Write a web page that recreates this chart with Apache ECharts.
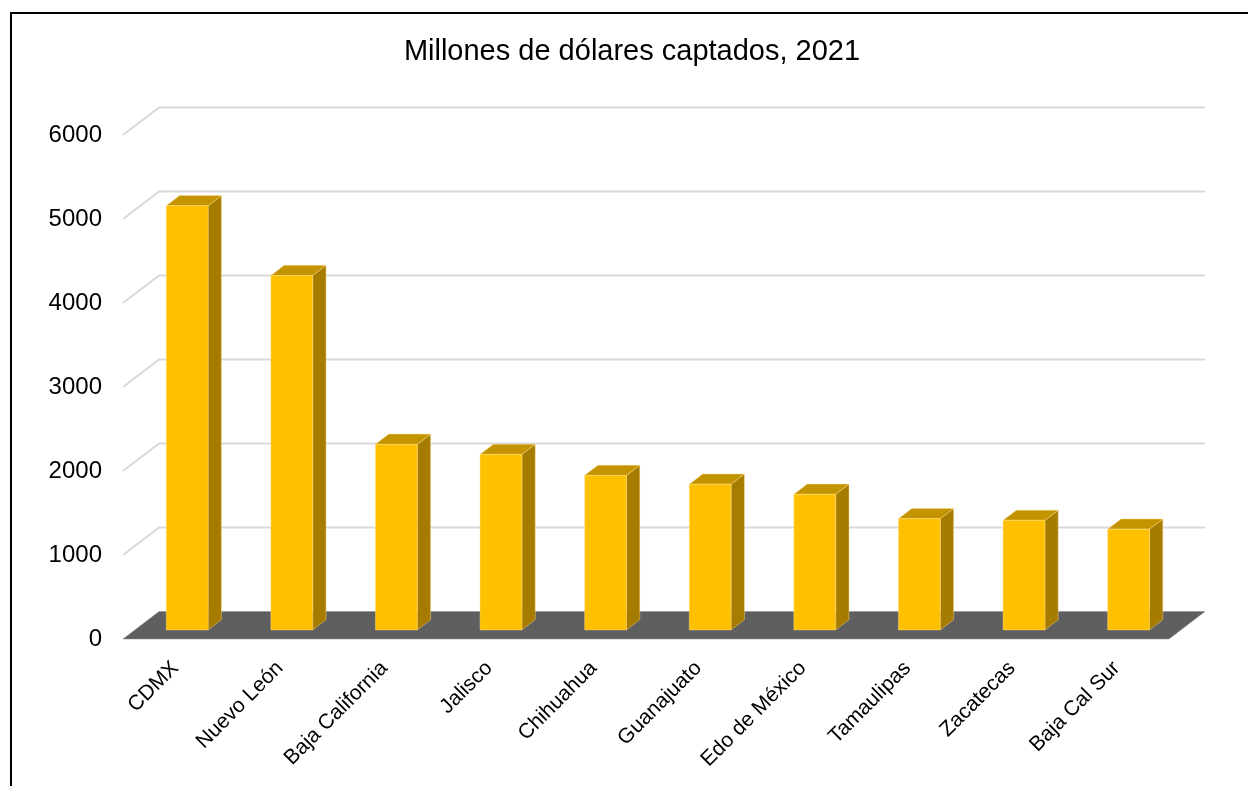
<!DOCTYPE html>
<html>
<head>
<meta charset="utf-8">
<script src="https://cdn.jsdelivr.net/npm/echarts@6/dist/echarts.min.js"></script>
<style>
html,body{margin:0;padding:0;background:#fff;}
#chart{width:1248px;height:786px;}
</style>
</head>
<body>
<div id="chart"></div>
<script>
// ---- data ----
const categories = ['CDMX', 'Nuevo León', 'Baja California', 'Jalisco', 'Chihuahua', 'Guanajuato', 'Edo de México', 'Tamaulipas', 'Zacatecas', 'Baja Cal Sur'];
const values = [5050, 4220, 2210, 2090, 1840, 1735, 1615, 1325, 1305, 1200];
const gridValues = [1000, 2000, 3000, 4000, 5000, 6000];
const titleText = 'Millones de dólares captados, 2021';

// ---- 3D look (styling) ----
const DX = 36, DY = -27.5;      // depth of floor / back wall
const F0 = 0.33, F1 = 0.70;      // bar front / back depth fractions
const BAR_RATIO = 0.40;
const FRONT = '#FFC000', SIDE = '#A67C00', TOP = '#C49300';
const FONT = '"Liberation Sans", Arial, sans-serif';

const chart = echarts.init(document.getElementById('chart'), null, {renderer: 'canvas'});

function renderFloor(params, api) {
  const cs = params.coordSys;
  const yb = cs.y + cs.height;
  return {
    type: 'polygon',
    shape: {points: [[cs.x, yb], [cs.x + cs.width, yb], [cs.x + cs.width + DX, yb + DY], [cs.x + DX, yb + DY]]},
    style: {fill: '#5F5F5F', stroke: '#8a8a8a', lineWidth: 0.5}
  };
}

function renderGrid(params, api) {
  const cs = params.coordSys;
  const y = api.coord([0, api.value(1)])[1];
  return {
    type: 'polyline',
    shape: {points: [[cs.x, y], [cs.x + DX, y + DY], [cs.x + cs.width + DX, y + DY]]},
    style: {fill: null, stroke: '#D9D9D9', lineWidth: 2}
  };
}

function renderBar(params, api) {
  const i = api.value(0), v = api.value(1);
  const base = api.coord([i, 0]);
  const top = api.coord([i, v]);
  const band = api.size([1, 0])[0];
  const w = band * BAR_RATIO;
  const fx = DX * F0, fy = DY * F0;
  const dx = DX * (F1 - F0), dy = DY * (F1 - F0);
  const x0 = base[0] - w / 2 + fx, x1 = base[0] + w / 2 + fx;
  const yb = base[1] + fy, yt = top[1] + fy;
  const edge = 'rgba(255,226,150,0.7)';
  return {
    type: 'group',
    children: [
      {type: 'polygon', shape: {points: [[x1, yt], [x1 + dx, yt + dy], [x1 + dx, yb + dy], [x1, yb]]},
        style: {fill: SIDE, stroke: edge, lineWidth: 0.6}},
      {type: 'polygon', shape: {points: [[x0, yt], [x1, yt], [x1 + dx, yt + dy], [x0 + dx, yt + dy]]},
        style: {fill: TOP, stroke: edge, lineWidth: 0.6}},
      {type: 'polygon', shape: {points: [[x0, yt], [x1, yt], [x1, yb], [x0, yb]]},
        style: {fill: FRONT, stroke: edge, lineWidth: 0.6}}
    ]
  };
}

const option = {
  backgroundColor: '#ffffff',
  animation: false,
  title: {
    text: titleText,
    left: 627,
    top: 32,
    textAlign: 'center',
    textStyle: {fontFamily: FONT, fontSize: 29, fontWeight: 'normal', color: '#000'}
  },
  graphic: [{
    type: 'rect',
    shape: {x: 11, y: 13, width: 1400, height: 1000},
    style: {fill: null, stroke: '#000', lineWidth: 2},
    silent: true,
    z: 100
  }],
  grid: {left: 123, right: 79, top: 135, bottom: 147, containLabel: false},
  xAxis: {
    type: 'category',
    data: categories,
    axisLine: {show: false},
    axisTick: {show: false},
    splitLine: {show: false},
    axisLabel: {
      rotate: 45,
      interval: 0,
      margin: 26,
      fontFamily: FONT,
      fontSize: 21,
      color: '#000'
    }
  },
  yAxis: {
    type: 'value',
    min: 0,
    max: 6000,
    interval: 1000,
    axisLine: {show: false},
    axisTick: {show: false},
    splitLine: {show: false},
    axisLabel: {margin: 21, fontFamily: FONT, fontSize: 24, color: '#000', formatter: v => String(v)}
  },
  series: [
    {type: 'custom', name: 'floor', renderItem: renderFloor, data: [[0, 0]], encode: {x: 0, y: 1}, z: 1, silent: true},
    {type: 'custom', name: 'grid', renderItem: renderGrid, data: gridValues.map(v => [0, v]), encode: {x: 0, y: 1}, z: 2, silent: true},
    {type: 'custom', name: 'Millones de dólares', renderItem: renderBar, data: values.map((v, i) => [i, v]), encode: {x: 0, y: 1}, z: 3}
  ]
};
chart.setOption(option);
</script>
</body>
</html>
